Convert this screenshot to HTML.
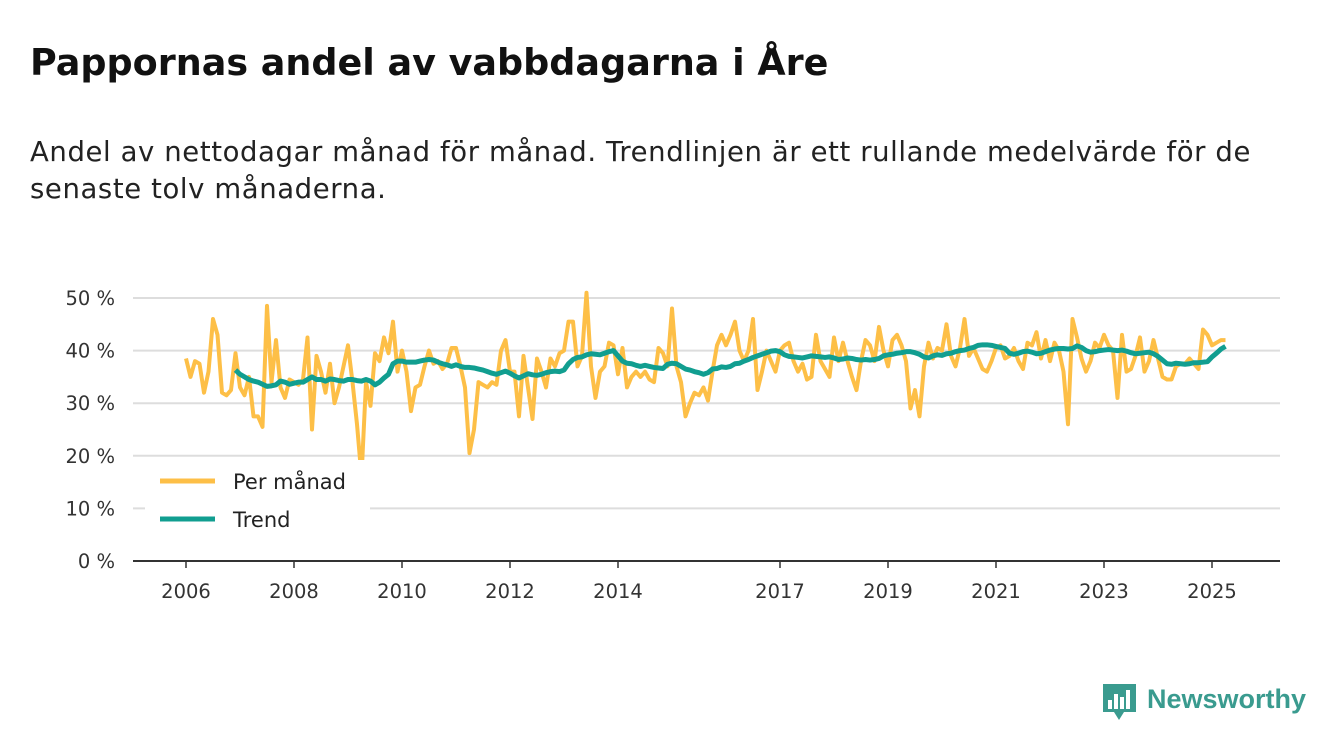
<!DOCTYPE html>
<html><head><meta charset="utf-8"><style>
body{margin:0;background:#fff;font-family:"DejaVu Sans","Liberation Sans",sans-serif;color:#111;}
#wrap{position:relative;width:1340px;height:753px;overflow:hidden;}
h1{position:absolute;left:30px;top:41px;margin:0;font-size:36.5px;font-weight:bold;letter-spacing:0px;}
p.sub{position:absolute;left:30px;top:134px;margin:0;font-size:27.5px;line-height:37px;width:1250px;color:#222;letter-spacing:0.6px;}
</style></head><body>
<div id="wrap">
<h1>Pappornas andel av vabbdagarna i Åre</h1>
<p class="sub">Andel av nettodagar månad för månad. Trendlinjen är ett rullande medelvärde för de<br>senaste tolv månaderna.</p>
<svg id="chart" width="1340" height="753" style="position:absolute;left:0;top:0"></svg>
</div>
<script>
const monthly = [
38.5,35,38,37.5,32,36,46,43,32,31.5,32.5,39.5,
33,31.5,35,27.5,27.5,25.5,48.5,34,42,33,31,34.5,
34,33.5,34.5,42.5,25,39,36,32,37.5,30,33,37,
41,34,26,16,34,29.5,39.5,38,42.5,39.5,45.5,36,
40,36,28.5,33,33.5,37,40,37.5,38,36.5,37.5,40.5,
40.5,37,33,20.5,25,34,33.5,33,34,33.5,40,42,
36,36,27.5,39,33,27,38.5,36,33,38.5,37,39.5,
40,45.5,45.5,37,39,51,37,31,36,37,41.5,41,
35.5,40.5,33,35,36,35,36,34.5,34,40.5,39.5,37,
48,37,34,27.5,30,32,31.5,33,30.5,36,41,43,
41,43,45.5,40,38,40,46,32.5,36,40,38,36,
40,41,41.5,38,36,37.5,34.5,35,43,38,36.5,35,
42.5,38,41.5,38,35,32.5,38,42,41,38,44.5,40,
37,42,43,41,38,29,32.5,27.5,37,41.5,38.5,40.5,
40,45,39,37,40.5,46,39,40.5,38.5,36.5,36,38,
40.5,41,38.5,39,40.5,38,36.5,41.5,41,43.5,38.5,42,
38,41.5,40,36,26,46,42.5,38.5,36,38,41.5,40.5,
43,41,40,31,43,36,36.5,39,42.5,36,38,42,
38.5,35,34.5,34.5,37,37.5,37.5,38.5,37.5,36.5,44,43,
41,41.5,42,42];
const trend = [36.3,
35.5,35,34.5,34.2,34,33.6,33.2,33.3,33.5,34.2,34,33.6,
33.8,34,34,34.5,35,34.5,34.5,34.2,34.6,34.5,34.3,34.2,
34.5,34.5,34.3,34.2,34.5,34.2,33.5,34,34.8,35.5,37.5,38,
38,37.8,37.8,37.8,38,38.2,38.3,38.2,37.8,37.5,37.3,37,
37.3,37,36.8,36.8,36.7,36.5,36.3,36,35.7,35.5,35.8,36.1,
35.7,35.2,34.8,35.2,35.6,35.4,35.3,35.5,35.8,36,36.1,36,
36.3,37.5,38.3,38.7,38.8,39.2,39.4,39.3,39.2,39.5,39.8,40,
39,38,37.6,37.5,37.2,37,37.2,37,36.8,36.7,36.6,37.4,
37.6,37.5,37,36.5,36.3,36,35.8,35.5,35.8,36.5,36.6,36.9,
36.8,37,37.5,37.6,38,38.3,38.7,39,39.3,39.6,39.9,40,
39.8,39.2,38.9,38.8,38.7,38.6,38.8,39,38.9,38.8,38.7,38.8,
38.6,38.3,38.4,38.6,38.5,38.3,38.2,38.3,38.2,38.3,38.5,39,
39.2,39.3,39.5,39.6,39.8,39.8,39.6,39.3,38.8,38.6,39,39.2,
39.1,39.4,39.5,39.8,40,40.1,40.4,40.6,41,41.1,41.1,41,
40.8,40.6,40.4,39.5,39.3,39.5,39.8,39.9,39.7,39.4,39.5,39.8,
40.1,40.3,40.4,40.4,40.3,40.4,40.9,40.6,40,39.7,39.8,40,
40.1,40.2,40.1,40,40.1,39.9,39.6,39.4,39.5,39.6,39.7,39.4,
38.9,38.2,37.5,37.4,37.6,37.5,37.4,37.5,37.7,37.7,37.8,37.9,
38.8,39.5,40.3,40.8];
const yTicks = [0,10,20,30,40,50];
const xTickYears = [2006,2008,2010,2012,2014,2017,2019,2021,2023,2025];
const startYear = 2006;

const NS="http://www.w3.org/2000/svg";
const svg=document.getElementById('chart');
const L=133,R=1280;
const FF='DejaVu Sans, Liberation Sans, sans-serif';
const x=m=>186+m*(54/12);
const y=v=>561-v*5.26;
function mk(t,a){const e=document.createElementNS(NS,t);for(const k in a)e.setAttribute(k,a[k]);svg.appendChild(e);return e;}
yTicks.forEach(v=>{
  const g=mk('line',{x1:L,x2:R,y1:y(v),y2:y(v),stroke:v===0?'#333':'#ddd','stroke-width':2});
  
  
  const t=mk('text',{x:115,y:y(v)+7,'text-anchor':'end','font-size':19.5,fill:'#333','font-family':FF});
  t.textContent=v+' %';
  
  
});
xTickYears.forEach(yr=>{
  const xx=x((yr-startYear)*12);
  const tk=mk('line',{x1:xx,x2:xx,y1:561,y2:568,stroke:'#333','stroke-width':1.5});
  
  
  const t=mk('text',{x:xx,y:598,'text-anchor':'middle','font-size':19.5,fill:'#333','font-family':FF});
  t.textContent=yr;
  
  
});
const p1=mk('polyline',{points:monthly.map((v,i)=>x(i)+','+y(v)).join(' '),fill:'none',stroke:'#fdbf47','stroke-width':4,'stroke-linejoin':'round'});


const off=monthly.length-trend.length;
const p2=mk('polyline',{points:trend.map((v,i)=>x(i+off)+','+y(v)).join(' '),fill:'none',stroke:'#119e90','stroke-width':5,'stroke-linejoin':'round'});


const bg=mk('rect',{x:145,y:460,width:225,height:80,fill:'#fff'});


[['Per månad','#fdbf47',481],['Trend','#119e90',519]].forEach(([lab,c,yy])=>{
  const l=mk('line',{x1:160,x2:215,y1:yy,y2:yy,stroke:c,'stroke-width':5});
  
  
  const t=mk('text',{x:233,y:yy+8,'font-size':21,fill:'#222','font-family':FF});
  t.textContent=lab;
  
  
});
const ic=mk('path',{d:'M1103 684 h33 v28 h-12 l-5 8 l-5 -8 h-11 z',fill:'#3a9b8f'});


[[1108,700,4,9],[1114,694,4,15],[1120,697,4,12],[1126,690,4,19]].forEach(b=>{
  const r=mk('rect',{x:b[0],y:b[1],width:b[2],height:b[3],fill:'#fff'});
  
  
});
const lt=mk('text',{x:1147,y:708,'font-size':27,'font-weight':'bold',fill:'#3a9b8f','font-family':'Liberation Sans, sans-serif'});
lt.textContent='Newsworthy';


</script>
</body></html>
